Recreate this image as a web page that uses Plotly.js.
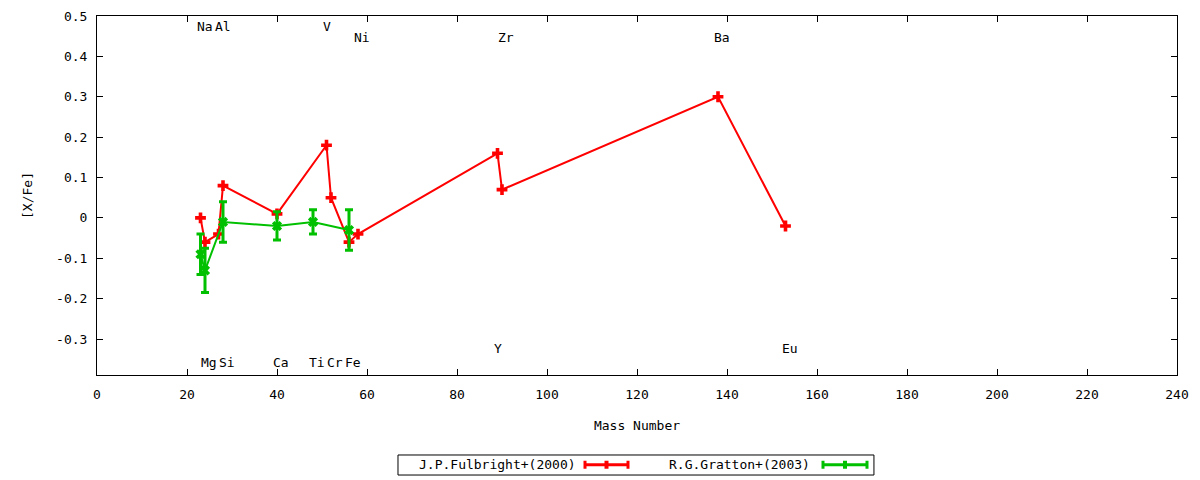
<!DOCTYPE html>
<html>
<head>
<meta charset="utf-8">
<script src="https://cdn.plot.ly/plotly-3.0.1.min.js"></script>
<style>html,body{margin:0;padding:0;background:#fff;}#chart{width:1200px;height:480px;}</style>
</head>
<body>
<div id="chart"></div>
<script>
// J.P.Fulbright+(2000)
const fulbrightMass = [23, 24, 27, 28, 40, 51, 52, 56, 58, 89, 90, 138, 153];
const fulbrightXFe  = [0.00, -0.06, -0.04, 0.08, 0.01, 0.18, 0.05, -0.06, -0.04, 0.16, 0.07, 0.30, -0.02];

// R.G.Gratton+(2003)
const grattonMass = [23, 24, 28, 40, 48, 56];
const grattonXFe  = [-0.09, -0.13, -0.01, -0.02, -0.01, -0.03];
const grattonErr  = [0.05, 0.055, 0.05, 0.035, 0.03, 0.05];

// element labels
const labelText = ['Na', 'Al', 'V', 'Ni', 'Zr', 'Ba', 'Mg', 'Si', 'Ca', 'Ti', 'Cr', 'Fe', 'Y', 'Eu'];
const labelMass = [23, 27, 51, 58, 90, 138, 24, 28, 40, 48, 52, 56, 89, 153];
const labelY    = [0.473, 0.473, 0.473, 0.446, 0.446, 0.446, -0.359, -0.359, -0.359, -0.359, -0.359, -0.359, -0.324, -0.324];

const seriesNames = ['J.P.Fulbright+(2000)', 'R.G.Gratton+(2003)'];
const xTickVals = [0, 20, 40, 60, 80, 100, 120, 140, 160, 180, 200, 220, 240];
const yTickVals = [-0.3, -0.2, -0.1, 0, 0.1, 0.2, 0.3, 0.4, 0.5];
const yTickText = ['-0.3', '-0.2', '-0.1', '0', '0.1', '0.2', '0.3', '0.4', '0.5'];

const RED = '#ff0000';
const GREEN = '#00c000';
const FONT = 'DejaVu Sans Mono, monospace';

const traces = [
  {
    x: fulbrightMass, y: fulbrightXFe, name: seriesNames[0], type: 'scatter', mode: 'lines+markers',
    line: {color: RED, width: 2},
    marker: {color: RED, symbol: 'cross', size: 9, line: {width: 0}},
    showlegend: false, hoverinfo: 'x+y'
  },
  {
    x: grattonMass, y: grattonXFe, name: seriesNames[1], type: 'scatter', mode: 'lines+markers',
    line: {color: GREEN, width: 2},
    marker: {color: GREEN, symbol: 'x', size: 9, line: {width: 0}},
    error_y: {type: 'data', array: grattonErr, visible: true, color: GREEN, thickness: 3, width: 4},
    showlegend: false, hoverinfo: 'x+y'
  }
];

const annotations = labelText.map((t, i) => ({
  x: labelMass[i], y: labelY[i], xref: 'x', yref: 'y', text: t, showarrow: false,
  xanchor: 'left', yanchor: 'middle', xshift: -6, font: {family: FONT, size: 13, color: '#000'}
}));

// custom gnuplot-style key
const ph = 359; // plot height px
const pw = 1080;
const px = v => v / pw, py = v => v / ph;
const keyY = -0.25;
annotations.push(
  {x: 0.4454, y: keyY, xref: 'paper', yref: 'paper', text: seriesNames[0], showarrow: false,
   xanchor: 'right', yanchor: 'middle', font: {family: FONT, size: 13, color: '#000'}},
  {x: 0.6620, y: keyY, xref: 'paper', yref: 'paper', text: seriesNames[1], showarrow: false,
   xanchor: 'right', yanchor: 'middle', font: {family: FONT, size: 13, color: '#000'}}
);
const shapes = [
  {type: 'rect', xref: 'paper', yref: 'paper', x0: 0.2787, x1: 0.7194, y0: -0.2228, y1: -0.2786,
   line: {color: '#000', width: 1}, fillcolor: 'rgba(0,0,0,0)'}
];
function keySample(x0px, x1px, color) {
  const a = px(x0px - 97), b = px(x1px - 97), c = (a + b) / 2;
  const h = py(4);
  shapes.push(
    {type: 'line', xref: 'paper', yref: 'paper', x0: a, x1: b, y0: keyY, y1: keyY, line: {color: color, width: 3}},
    {type: 'line', xref: 'paper', yref: 'paper', x0: a, x1: a, y0: keyY - h, y1: keyY + h, line: {color: color, width: 3}},
    {type: 'line', xref: 'paper', yref: 'paper', x0: b, x1: b, y0: keyY - h, y1: keyY + h, line: {color: color, width: 3}},
    {type: 'line', xref: 'paper', yref: 'paper', x0: c, x1: c, y0: keyY - h, y1: keyY + h, line: {color: color, width: 4}}
  );
}
keySample(585, 628, RED);
keySample(823, 867, GREEN);

const axisCommon = {
  showline: true, linecolor: '#000', linewidth: 1, mirror: 'ticks',
  ticks: 'inside', ticklen: 6, tickcolor: '#000', tickwidth: 1,
  showgrid: false, zeroline: false, tickfont: {family: FONT, size: 13, color: '#000'}
};

const layout = {
  width: 1200, height: 480,
  margin: {l: 97, r: 23, t: 16, b: 105, pad: 0},
  paper_bgcolor: '#fff', plot_bgcolor: '#fff',
  font: {family: FONT, size: 13, color: '#000'},
  showlegend: false,
  xaxis: Object.assign({}, axisCommon, {
    range: [0, 240], tickmode: 'array', tickvals: xTickVals,
    ticklabelstandoff: 7,
    title: {text: 'Mass Number', font: {family: FONT, size: 13, color: '#000'}, standoff: 20}
  }),
  yaxis: Object.assign({}, axisCommon, {
    range: [-0.389, 0.5], tickmode: 'array', tickvals: yTickVals, ticktext: yTickText,
    ticklabelstandoff: 6,
    title: {text: '[X/Fe]', font: {family: FONT, size: 13, color: '#000'}, standoff: 20}
  }),
  annotations: annotations,
  shapes: shapes
};

Plotly.newPlot('chart', traces, layout, {staticPlot: true, displayModeBar: false});
</script>
</body>
</html>
